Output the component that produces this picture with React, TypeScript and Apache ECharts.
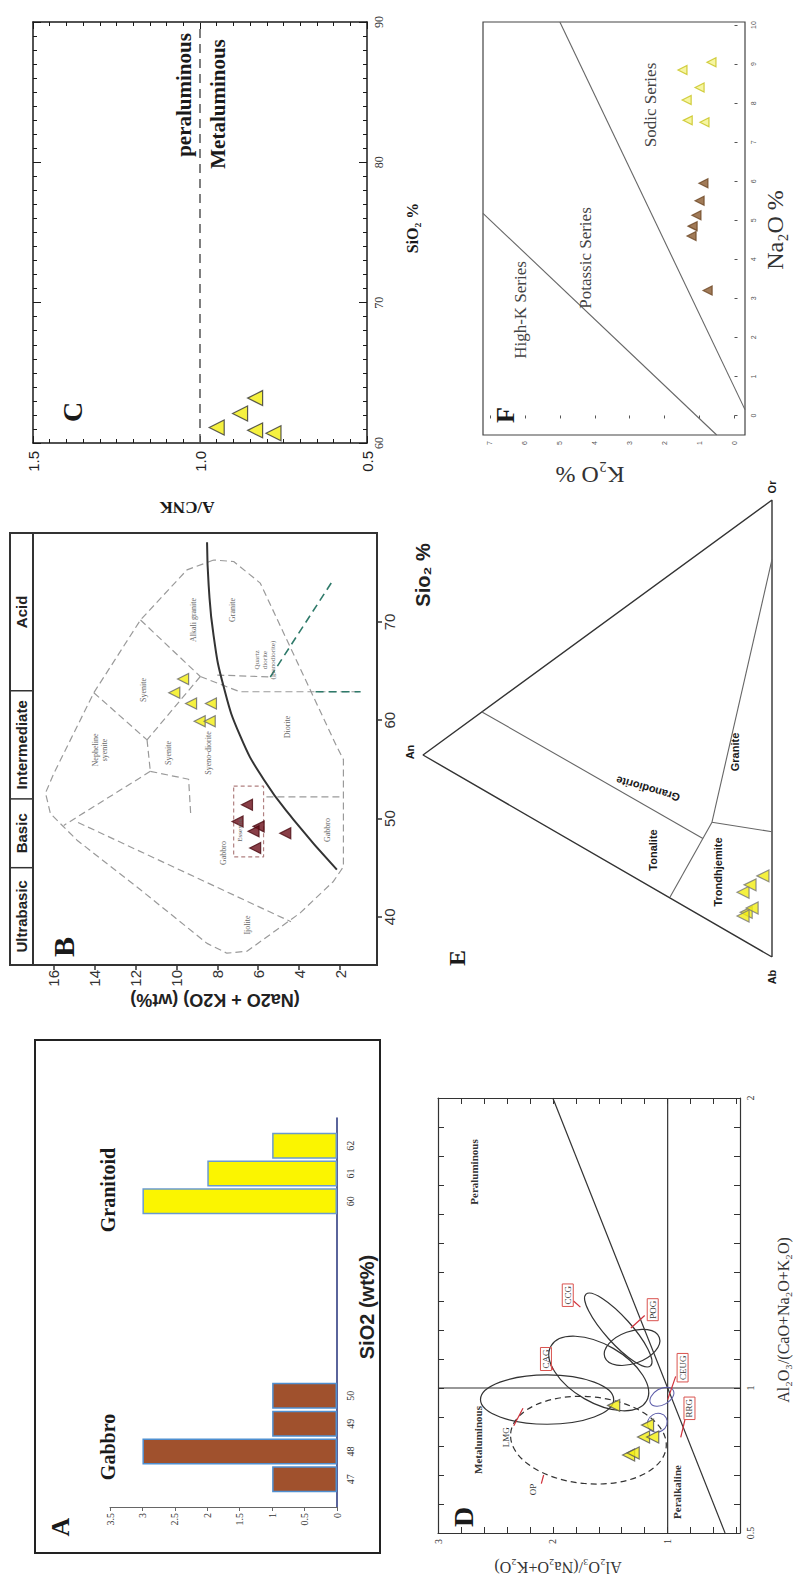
import React, { useEffect, useRef } from "react";
import * as echarts from "echarts";

const SERIF = "'Liberation Serif','Times New Roman',serif";
const SANS = "'Liberation Sans',Arial,sans-serif";
const INK = "#1a1a1a";
const GRAYLINE = "#8a8a8a";
const YEL = "#f2ee10";

// ---------------- Panel A : SiO2 histogram ----------------
const histCategories = ["", "47", "48", "49", "50", "", "", "", "", "", "", "60", "61", "62", ""];
const gabbroCounts = [null, 1, 3, 1, 1, null, null, null, null, null, null, null, null, null, null];
const granitoidCounts = [null, null, null, null, null, null, null, null, null, null, null, 3, 2, 1, null];

// ---------------- Panel C : A/CNK vs SiO2 ----------------
const cSiO2 = [61.1, 62.1, 63.2, 60.9, 60.7];
const cACNK = [0.95, 0.88, 0.835, 0.835, 0.78];
const cDivide = [[1, 60], [1, 90]];

// ---------------- Panel B : TAS (alkali, SiO2) ----------------
const bGraniteAlk = [9.67, 10.1, 9.28, 8.31, 8.86, 8.37];
const bGraniteSiO2 = [64.2, 62.8, 61.7, 61.7, 59.9, 59.9];
const bGabbroAlk = [6.55, 7.01, 5.98, 6.23, 6.15, 4.68];
const bGabbroSiO2 = [51.4, 49.7, 49.2, 48.7, 47.0, 48.5];
const tasEnvelope = [[8.18, 76.3], [9.48, 75.3], [11.75, 70.2], [14.03, 62.8], [15.98, 54.6], [16.39, 52.6], [16.15, 50.5], [14.85, 47.8], [11.75, 42.75], [8.5, 37.3], [7.53, 36.3], [6.55, 36.5], [3.95, 40.4], [2.33, 43.6], [1.84, 45.1], [1.84, 56.0], [2.16, 57.3], [5.9, 73.95], [7.2, 76.15], [8.18, 76.3]];
const tasAlkalineCurve = [[2.16, 44.8], [4.28, 49.9], [5.74, 54.0], [6.88, 58.4], [7.7, 63.5], [8.18, 68.6], [8.42, 73.7], [8.5, 78.1]];
const tasFieldLines = [
  [[11.75, 70.2], [8.83, 64.45]],
  [[8.83, 64.45], [11.43, 58.0]],
  [[14.03, 62.8], [11.43, 58.0]],
  [[11.43, 58.0], [11.27, 54.8]],
  [[11.27, 54.8], [15.5, 49.3]],
  [[14.8, 49.6], [4.4, 39.5]],
  [[11.27, 54.8], [9.4, 54.0], [9.3, 50.5]],
  [[8.83, 64.45], [6.9, 62.9], [1.0, 62.9]],
  [[8.0, 64.6], [5.41, 64.4]],
  [[5.6, 52.2], [1.84, 52.2]],
];
const tasGreenLines = [
  [[5.41, 64.4], [2.33, 74.3]],
  [[3.2, 62.9], [1.0, 62.9]],
];
const tasGabbroBox = [[7.2, 53.3], [5.74, 53.3], [5.74, 46.1], [7.2, 46.1], [7.2, 53.3]];
const tasDivisions = [35.1, 45, 52, 63, 79.05];
const tasDivisionNames = ["Ultrabasic", "Basic", "Intermediate", "Acid"];

// ---------------- Panel D : Shand (A/NK, A/CNK) ----------------
const dPoints = [[1.47, 0.94], [1.175, 0.872], [1.21, 0.831], [1.13, 0.831], [1.34, 0.769], [1.3, 0.776]];
const dLineANK1 = [[1, 0.5], [1, 2]];
const dLineACNK1 = [[0.37, 1], [3, 1]];
const dLineDiag = [[0.5, 0.5], [2, 2]];
// [A/NK centre, A/CNK centre, semi-axis (A/NK units), semi-axis (A/CNK units), tilt deg, style 0 solid / 1 dashed / 2 blue]
const dFields = [
  [1.43, 1.2, 0.42, 0.045, -48, 0],
  [1.31, 1.14, 0.14, 0.1, -70, 0],
  [1.6, 1.05, 0.48, 0.1, -30, 0],
  [2.05, 0.96, 0.58, 0.085, 0, 0],
  [1.69, 0.82, 0.68, 0.15, -5, 1],
  [1.05, 0.97, 0.07, 0.045, -60, 2],
  [1.09, 0.88, 0.08, 0.035, -60, 2],
];
const dLabels = [
  ["OP", 2.17, 0.65, 0], ["LMG", 2.41, 0.83, 0], ["CAG", 2.06, 1.1, 1], ["CCG", 1.87, 1.32, 1],
  ["POG", 1.13, 1.27, 1], ["CEUG", 0.87, 1.07, 1], ["RRG", 0.81, 0.93, 1],
];
const dArrows = [
  [[2.1, 0.67], [2.08, 0.7]],
  [[2.34, 0.87], [2.26, 0.93]],
  [[2.02, 1.08], [1.996, 1.062]],
  [[1.82, 1.3], [1.76, 1.279]],
  [[1.2, 1.25], [1.32, 1.207]],
  [[0.93, 1.04], [1.0, 0.96]],
  [[0.85, 0.89], [0.886, 0.83]],
];

// ---------------- Panel E : An-Ab-Or ternary (An %, Or %) ----------------
const eVertices = [[0, 0], [0, 100], [100, 0], [0, 0]];
const eBoundaries = [
  [[29.2, 0.2], [17.2, 21.9]],
  [[17.2, 21.9], [0, 27.4]],
  [[17.2, 21.9], [0, 87.0]],
  [[19.8, 17.2], [83.1, 16.9]],
];
const ePoints = [[8.3, 10.5], [6.3, 13.0], [2.6, 16.6], [7.4, 6.5], [5.7, 8.2], [8.3, 5.3]];

// ---------------- Panel F : K2O vs Na2O ----------------
const fSodicLine = [[-0.3, 0.15], [5.0, 10.08]];
const fHighKLine = [[7.2, 5.18], [0.51, -0.5]];
const fGranitoid = [[1.49, 8.85], [1.0, 8.4], [1.37, 8.08], [1.34, 7.56], [0.86, 7.51], [0.66, 9.05]];
const fGabbro = [[1.23, 4.6], [1.09, 5.13], [1.0, 5.5], [0.89, 5.95], [0.77, 3.2], [1.2, 4.85]];

const E_APEX = 0.442;
const tern = (p: number[]) => [p[0] / 100, p[1] / 100 + (E_APEX * p[0]) / 100];

const range = (a: number, b: number, s: number) => {
  const out: number[] = [];
  for (let v = a; v <= b + 1e-9; v += s) out.push(Math.round(v * 100) / 100);
  return out;
};

function T(text: string, x: number, y: number, size: number, o: any = {}) {
  const weight = o.bold ? "bold" : "normal";
  const fam = o.family ?? SERIF;
  return {
    type: "text",
    x,
    y,
    rotation: o.rot ?? Math.PI / 2,
    z: 60,
    silent: true,
    style: {
      text,
      fill: o.color ?? INK,
      fontSize: size,
      fontFamily: fam,
      fontWeight: weight,
      font: `${weight} ${size}px ${fam}`,
      align: "center",
      verticalAlign: "middle",
      textAlign: "center",
      textVerticalAlign: "middle",
      lineHeight: o.lh ?? Math.round(size * 1.1),
      ...(o.box ? { borderColor: "#d9534f", borderWidth: 1, padding: [1, 2, 0, 2] } : {}),
    },
  };
}

function lineSeries(data: any, xi: number, yi: number, o: any = {}) {
  return {
    type: "line",
    xAxisIndex: xi,
    yAxisIndex: yi,
    data,
    symbol: "none",
    silent: true,
    smooth: o.smooth ?? false,
    z: o.z ?? 3,
    lineStyle: { color: o.color ?? GRAYLINE, width: o.width ?? 1.2, type: o.dash ?? "solid" },
  };
}

function triSeries(data: any, xi: number, yi: number, fill: string, stroke: string, size = 13) {
  return {
    type: "scatter",
    xAxisIndex: xi,
    yAxisIndex: yi,
    data,
    symbol: "triangle",
    symbolRotate: 90,
    symbolSize: size,
    z: 10,
    itemStyle: { color: fill, borderColor: stroke, borderWidth: 1.2 },
  };
}

const noSplit = { splitLine: { show: false } };

function buildOption() {
  const grids = [
    { left: 33, top: 22, width: 334, height: 421 },
    { left: 33, top: 533, width: 344, height: 432, show: true, borderColor: "#333", borderWidth: 2 },
    { left: 110, top: 1118, width: 227, height: 389 },
    { left: 438, top: 1098, width: 302, height: 435 },
    { left: 423, top: 500, width: 349, height: 457 },
    { left: 483, top: 22, width: 262, height: 413, show: true, borderColor: "#444", borderWidth: 1.2 },
  ].map((g) => ({ ...g, containLabel: false, outerBoundsMode: "none" }));

  const tickAx = (o: any) => ({ type: "value", ...noSplit, ...o });

  const xAxis: any[] = [
    tickAx({
      gridIndex: 0, min: 0.5, max: 1.5, interval: 0.5, inverse: true, position: "bottom",
      axisLine: { lineStyle: { color: INK, width: 1.5 } },
      axisTick: { inside: true, length: 7, lineStyle: { color: INK } },
      minorTick: { show: true, splitNumber: 10, length: 4, lineStyle: { color: INK } },
      axisLabel: { rotate: 90, fontFamily: SANS, fontSize: 15, color: "#222", margin: 8, formatter: (v: number) => v.toFixed(1) },
    }),
    tickAx({
      gridIndex: 0, min: 0.5, max: 1.5, interval: 0.5, inverse: true, position: "top",
      axisLine: { lineStyle: { color: INK, width: 1.5 } },
      axisTick: { inside: true, length: 7, lineStyle: { color: INK } },
      minorTick: { show: true, splitNumber: 10, length: 4, lineStyle: { color: INK } },
      axisLabel: { show: false },
    }),
    tickAx({
      gridIndex: 1, min: 0.2, max: 17, inverse: true, position: "bottom",
      axisLine: { show: false },
      axisTick: { customValues: range(2, 16, 2), length: 5, lineStyle: { color: "#333", width: 1.5 } },
      axisLabel: { customValues: range(2, 16, 2), rotate: 90, fontFamily: SANS, fontSize: 15, color: "#333", margin: 5 },
    }),
    tickAx({
      gridIndex: 2, min: 0, max: 3.5, interval: 0.5, inverse: true, position: "bottom",
      axisLine: { show: true, lineStyle: { color: "#666", width: 1 } },
      axisTick: { show: true, length: 4, lineStyle: { color: "#666" } },
      axisLabel: { rotate: 90, fontFamily: SERIF, fontSize: 10, color: "#333", margin: 6 },
    }),
    tickAx({
      gridIndex: 3, min: 0.37, max: 3, inverse: true, position: "bottom",
      axisLine: { lineStyle: { color: "#333", width: 1.2 } },
      axisTick: { customValues: range(0.4, 3, 0.2), inside: true, length: 6, lineStyle: { color: "#333" } },
      axisLabel: { customValues: [1, 2, 3], rotate: 90, fontFamily: SERIF, fontSize: 10, color: "#333", margin: 6 },
    }),
    tickAx({
      gridIndex: 3, min: 0.37, max: 3, inverse: true, position: "top",
      axisLine: { lineStyle: { color: "#333", width: 1.2 } },
      axisTick: { customValues: range(0.4, 3, 0.2), inside: true, length: 6, lineStyle: { color: "#333" } },
      axisLabel: { show: false },
    }),
    tickAx({ gridIndex: 4, min: 0, max: 1, inverse: true, show: false }),
    tickAx({
      gridIndex: 5, min: -0.3, max: 7.2, inverse: true, position: "bottom",
      axisLine: { show: false },
      axisTick: { customValues: range(0, 7, 1), length: 3, lineStyle: { color: "#555" } },
      axisLabel: { customValues: range(0, 7, 1), rotate: 90, fontFamily: SANS, fontSize: 7, color: "#555", margin: 6 },
    }),
  ];

  const yAxis: any[] = [
    tickAx({
      gridIndex: 0, min: 60, max: 90, interval: 10, position: "right",
      axisLine: { lineStyle: { color: INK, width: 1.5 } },
      axisTick: { inside: true, length: 8, lineStyle: { color: INK } },
      minorTick: { show: true, splitNumber: 10, length: 4, lineStyle: { color: INK } },
      axisLabel: { rotate: 90, fontFamily: SERIF, fontSize: 12, color: "#333", margin: 6 },
    }),
    tickAx({
      gridIndex: 0, min: 60, max: 90, interval: 10, position: "left",
      axisLine: { show: true, lineStyle: { color: INK, width: 1.5 } },
      axisTick: { inside: true, length: 8, lineStyle: { color: INK } },
      minorTick: { show: true, splitNumber: 10, length: 4, lineStyle: { color: INK } },
      axisLabel: { show: false },
    }),
    tickAx({
      gridIndex: 1, min: 35.1, max: 79.05, position: "right",
      axisLine: { show: false },
      axisTick: { customValues: [40, 50, 60, 70], length: 5, lineStyle: { color: "#333", width: 1.5 } },
      axisLabel: { customValues: [40, 50, 60, 70], rotate: 90, fontFamily: SANS, fontSize: 15, color: "#333", margin: 5 },
    }),
    {
      gridIndex: 2, type: "category", data: histCategories, boundaryGap: false, position: "right",
      axisLine: { show: true, lineStyle: { color: "#23307a", width: 1.5 } },
      axisTick: { show: false },
      axisLabel: { rotate: 90, fontFamily: SERIF, fontSize: 10, color: "#333", margin: 8, interval: 0 },
      ...noSplit,
    },
    tickAx({
      gridIndex: 3, min: 0.5, max: 2, position: "right",
      axisLine: { lineStyle: { color: "#333", width: 1.2 } },
      axisTick: { customValues: range(0.5, 2, 0.1), inside: true, length: 6, lineStyle: { color: "#333" } },
      axisLabel: { customValues: [0.5, 1, 2], rotate: 90, fontFamily: SERIF, fontSize: 10, color: "#333", margin: 5 },
    }),
    tickAx({
      gridIndex: 3, min: 0.5, max: 2, position: "left",
      axisLine: { show: true, lineStyle: { color: "#333", width: 1.2 } },
      axisTick: { customValues: range(0.5, 2, 0.1), inside: true, length: 6, lineStyle: { color: "#333" } },
      axisLabel: { show: false },
    }),
    tickAx({ gridIndex: 4, min: 0, max: 1, show: false }),
    tickAx({
      gridIndex: 5, min: -0.5, max: 10.08, position: "right",
      axisLine: { show: false },
      axisTick: { customValues: range(0, 10, 1), length: 3, lineStyle: { color: "#555" } },
      axisLabel: { customValues: range(0, 10, 1), rotate: 90, fontFamily: SANS, fontSize: 7, color: "#555", margin: 5 },
    }),
  ];

  const zip = (a: number[], b: number[]) => a.map((v, i) => [v, b[i]]);

  const series: any[] = [
    lineSeries(cDivide, 0, 0, { color: "#555", width: 1.5, dash: [9, 6] }),
    triSeries(zip(cACNK, cSiO2), 0, 0, YEL, "#333", 15),
    lineSeries(tasEnvelope, 2, 2, { dash: [7, 4], color: "#9a9a9a" }),
    ...tasFieldLines.map((l) => lineSeries(l, 2, 2, { dash: [7, 4], color: "#9a9a9a" })),
    ...tasGreenLines.map((l) => lineSeries(l, 2, 2, { dash: [8, 5], color: "#2f7a6a", width: 1.6 })),
    lineSeries(tasAlkalineCurve, 2, 2, { color: "#333", width: 2, smooth: true, z: 4 }),
    lineSeries(tasGabbroBox, 2, 2, { dash: [4, 3], color: "#b08080" }),
    triSeries(zip(bGraniteAlk, bGraniteSiO2), 2, 2, YEL, "#666", 11),
    triSeries(zip(bGabbroAlk, bGabbroSiO2), 2, 2, "#6b0f1a", "#4a0a10", 11),
    {
      type: "bar", xAxisIndex: 3, yAxisIndex: 3, data: gabbroCounts, barWidth: 26, barGap: "-100%",
      itemStyle: { color: "#a0512d", borderColor: "#4f8fd0", borderWidth: 1.5 },
    },
    {
      type: "bar", xAxisIndex: 3, yAxisIndex: 3, data: granitoidCounts, barWidth: 26, barGap: "-100%",
      itemStyle: { color: "#fbf500", borderColor: "#6a9ad0", borderWidth: 1.5 },
    },
    lineSeries(dLineANK1, 4, 4, { color: "#333", width: 1.2 }),
    lineSeries(dLineACNK1, 4, 4, { color: "#333", width: 1.2 }),
    lineSeries(dLineDiag, 4, 4, { color: "#333", width: 1.2 }),
    ...dArrows.map((a) => lineSeries(a, 4, 4, { color: "#d0303a", width: 1.2, z: 6 })),
    triSeries(dPoints, 4, 4, YEL, "#555", 12),
    lineSeries(eVertices.map(tern), 6, 6, { color: "#333", width: 1.4 }),
    ...eBoundaries.map((l) => lineSeries(l.map(tern), 6, 6, { color: "#666", width: 1.1 })),
    triSeries(ePoints.map(tern), 6, 6, YEL, "#777", 12),
    lineSeries(fSodicLine, 7, 7, { color: "#666", width: 1.1 }),
    lineSeries(fHighKLine, 7, 7, { color: "#666", width: 1.1 }),
    triSeries(fGranitoid, 7, 7, "#f4f28a", "#c7c21a", 9),
    triSeries(fGabbro, 7, 7, "#8a5a2e", "#6b4522", 9),
  ];

  return { animation: false, backgroundColor: "#fff", grid: grids, xAxis, yAxis, series };
}

function buildGraphics(chart: any) {
  const g: any[] = [];
  const P = (xi: number, yi: number, p: number[]) => chart.convertToPixel({ xAxisIndex: xi, yAxisIndex: yi }, p);

  const ys = tasDivisions.map((v) => P(2, 2, [10, v])[1]);
  g.push({ type: "rect", shape: { x: 10, y: ys[4], width: 23, height: ys[0] - ys[4] }, style: { fill: "none", stroke: "#333", lineWidth: 2 }, z: 40, silent: true });
  for (let i = 1; i < 4; i++) {
    g.push({ type: "line", shape: { x1: 10, y1: ys[i], x2: 33, y2: ys[i] }, style: { stroke: "#333", lineWidth: 1.5 }, z: 40, silent: true });
  }
  tasDivisionNames.forEach((n, i) => g.push(T(n, 21.5, (ys[i] + ys[i + 1]) / 2, 15, { bold: true, family: SANS, color: "#222" })));

  dFields.forEach((f) => {
    const c = P(4, 4, [f[0], f[1]]);
    const c2 = P(4, 4, [f[0] + f[2], f[1] + f[3]]);
    g.push({
      type: "ellipse", x: c[0], y: c[1], rotation: (f[4] * Math.PI) / 180, z: 5, silent: true,
      shape: { cx: 0, cy: 0, rx: Math.abs(c2[0] - c[0]), ry: Math.abs(c2[1] - c[1]) },
      style: { fill: "none", stroke: f[5] === 2 ? "#5a5aa8" : "#333", lineWidth: f[5] === 2 ? 1 : 1.2, lineDash: f[5] === 1 ? [6, 4] : null },
    });
  });
  dLabels.forEach((l: any) => {
    const c = P(4, 4, [l[1], l[2]]);
    g.push(T(l[0], c[0], c[1], 9, { box: !!l[3], color: "#333" }));
  });

  g.push({ type: "rect", shape: { x: 35, y: 1040, width: 345, height: 513 }, style: { fill: "none", stroke: "#222", lineWidth: 2 }, z: 40, silent: true });

  g.push(
    T("peraluminous", 184, 95, 21, { bold: true }),
    T("Metaluminous", 218, 104, 21, { bold: true }),
    T("C", 72, 412, 28, { bold: true }),
    T("A/CNK", 187, 507, 17, { bold: true, rot: Math.PI }),
    T("SiO\u2082 %", 412, 228, 16, { bold: true }),
    T("B", 63, 947, 30, { bold: true }),
    T("(Na2O + K2O) (wt%)", 215, 1000, 18, { bold: true, family: SANS, rot: Math.PI, color: "#222" }),
    T("Sio\u2082 %", 423, 575, 20, { bold: true, family: SANS, color: "#222" }),
    T("Ijolite", 247, 925, 8, { color: "#666" }),
    T("Gabbro", 223, 853, 8, { color: "#666" }),
    T("Essexite", 240, 830, 7, { color: "#666" }),
    T("Gabbro", 327, 830, 8, { color: "#666" }),
    T("Syeno-diorite", 208, 753, 8, { color: "#666" }),
    T("Syenite", 168, 753, 8, { color: "#666" }),
    T("Nepheline\nsyenite", 100, 750, 8, { color: "#666" }),
    T("Syenite", 143, 690, 8, { color: "#666" }),
    T("Alkali granite", 193, 620, 8, { color: "#666" }),
    T("Granite", 232, 610, 8, { color: "#666" }),
    T("Quartz\ndiorite\n(granodiorite)", 265, 660, 7, { color: "#666" }),
    T("Diorite", 287, 727, 8, { color: "#666" }),
    T("A", 60, 1527, 26, { bold: true }),
    T("Gabbro", 108, 1447, 20, { bold: true }),
    T("Granitoid", 108, 1190, 20, { bold: true }),
    T("SiO2 (wt%)", 367, 1307, 20, { bold: true, family: SANS, color: "#222" }),
    T("D", 463, 1517, 28, { bold: true }),
    T("Metaluminous", 478, 1440, 11, { bold: true, color: "#333" }),
    T("Peraluminous", 474, 1172, 11, { bold: true, color: "#333" }),
    T("Peralkaline", 677, 1492, 11, { bold: true, color: "#333" }),
    T("Al\u2082O\u2083/(CaO+Na\u2082O+K\u2082O)", 783, 1320, 16, { color: "#333" }),
    T("Al\u2082O\u2083/(Na\u2082O+K\u2082O)", 558, 1567, 16, { color: "#333", rot: Math.PI }),
    T("An", 410, 752, 11, { bold: true, family: SANS }),
    T("Ab", 772, 977, 11, { bold: true, family: SANS }),
    T("Or", 772, 487, 11, { bold: true, family: SANS }),
    T("E", 457, 958, 24, { bold: true }),
    T("Tonalite", 653, 850, 11, { bold: true, family: SANS }),
    T("Trondhjemite", 718, 872, 11, { bold: true, family: SANS }),
    T("Granodiorite", 648, 789, 11, { bold: true, family: SANS, rot: 2.86 }),
    T("Granite", 735, 752, 11, { bold: true, family: SANS }),
    T("F", 505, 415, 26, { bold: true }),
    T("K\u2082O %", 590, 475, 24, { rot: Math.PI, color: "#333" }),
    T("Na\u2082O %", 775, 230, 24, { color: "#333" }),
    T("Sodic Series", 650, 105, 17, { color: "#444" }),
    T("Potassic Series", 585, 258, 17, { color: "#444" }),
    T("High-K Series", 520, 310, 17, { color: "#444" })
  );
  return g;
}

export default function App() {
  const ref = useRef<HTMLDivElement>(null);
  useEffect(() => {
    const el = ref.current;
    if (!el) return;
    const chart = echarts.init(el, null, { renderer: "svg" });
    chart.setOption(buildOption());
    chart.setOption({ graphic: { elements: buildGraphics(chart) } });
    return () => chart.dispose();
  }, []);
  return (
    <div
      ref={ref}
      style={{ position: "absolute", left: 0, top: 0, width: 801, height: 1580, background: "#fff" }}
    />
  );
}
